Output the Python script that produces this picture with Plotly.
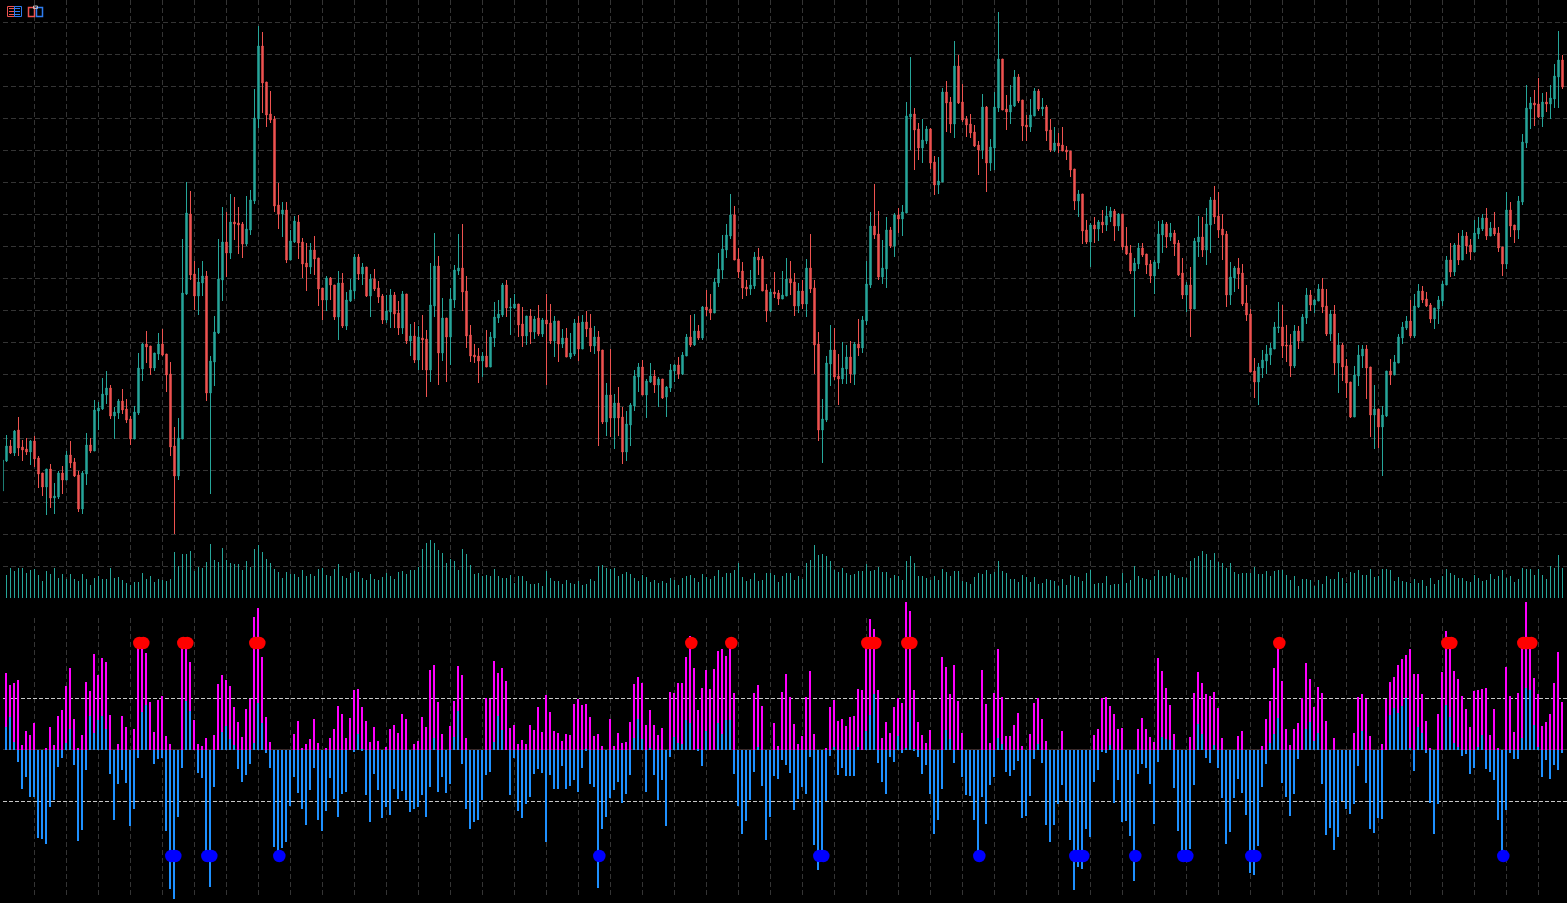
import plotly.graph_objects as go

W, H = 1567, 903

opens = [49,79,94,87,110,93,91,88,99,82, 67,53,71,42,43,67,60,85,78,65, 31,66,95,89,129,131,145,152,124,127,
139,131,121,101,127,171,196,194,172,186, 196,186,166,94,64,101,246,326,266,244, 257,264,147,178,207,260,298,287,318,317,
316,296,310,339,421,494,458,426,421,335, 326,330,280,298,318,298,277,273,290,282, 252,240,262,255,223,257,214,239,249,283,
266,273,244,261,252,244,220,228,245,227, 212,246,199,204,180,202,201,170,234,274, 187,222,203,240,269,272,249,205,185,184,
179,184,173,202,222,225,255,232,232,236, 216,204,224,208,222,206,220,217,199,219, 196,202,183,186,217,191,218,212,194,203,
190,118,145,122,137,123,88,115,134,163, 173,145,158,164,155,161,143,152,169,175, 166,184,203,195,209,202,233,231,227,257,
270,290,304,325,281,269,253,251,254,283, 281,250,229,248,247,241,244,261,258,234, 249,236,272,252,196,110,120,176,190,164,
161,171,183,166,196,192,219,255,314,306, 263,271,310,294,325,321,327,423,426,411, 392,399,411,378,355,358,448,438,416,474,
438,421,416,408,395,390,433,377,392,432, 481,431,428,434,463,440,415,413,424,449, 431,433,410,390,397,395,390,389,371,339,
346,310,298,315,311,318,315,323,329,314, 326,294,287,269,276,292,286,276,264,277, 305,316,303,307,297,267,245,255,231,298,
303,290,315,340,324,311,306,245,262,272, 267,237,226,169,158,172,179,185,191,212, 213,195,195,174,209,199,222,245,235,239,
251,234,206,226,177,195,174,158,123,164, 184,191,173,125,131,113,124,169,165,177, 202,212,219,204,233,249,241,235,221,231,
239,255,280,268,295,280,304,295,288,306, 311,322,304,312,307,293,276,330,315,310, 338,397,431,437,436,423,438,436,441,463,480]

highs = [80,105,100,110,123,100,102,100,104,84, 67,71,76,57,69,74,89,99,82,69, 69,107,102,140,138,162,169,155,133,141,
151,141,124,134,187,197,209,194,187,207, 211,186,178,113,122,301,358,349,279,272, 279,269,184,224,301,333,328,346,343,333,
318,344,350,451,514,508,458,449,424,357, 338,338,310,324,325,302,297,297,304,282, 252,264,263,255,269,267,248,261,286,286,
277,273,266,271,259,246,245,251,248,239, 249,246,216,218,214,225,210,277,307,284, 242,222,252,275,306,316,264,215,196,192,
188,210,208,238,240,257,260,242,246,236, 233,224,231,224,235,222,246,236,224,219, 211,212,207,221,224,225,229,226,214,209,
190,157,191,146,153,133,129,137,170,177, 180,161,177,170,163,161,154,176,176,183, 188,206,225,226,215,234,250,246,262,287,
305,316,346,334,292,278,260,270,288,292, 284,256,251,268,250,269,282,279,267,257, 260,281,306,260,208,141,184,215,212,186,
198,195,199,198,221,224,279,328,356,329, 300,323,313,327,332,335,438,483,432,417, 421,414,412,384,383,452,459,443,499,485,
456,424,426,415,399,446,434,401,448,528, 481,445,455,470,466,440,425,441,452,451, 442,435,421,413,407,413,394,389,371,350,
346,320,317,323,320,330,334,333,331,327, 326,313,295,282,297,297,286,280,280,319, 320,318,317,310,300,282,258,273,302,324,
323,332,343,354,348,326,309,278,274,282, 276,255,231,182,177,190,195,197,218,238, 235,215,206,215,214,226,252,250,241,256,
262,251,230,235,207,197,181,158,174,195, 195,195,173,155,131,134,169,181,185,206, 218,224,240,246,256,254,248,237,232,244,
259,284,297,297,307,310,308,301,320,323, 326,332,318,328,313,293,348,338,315,344, 406,455,443,450,462,447,448,455,476,509,485]

lows = [49,78,86,84,84,79,85,75,73,52, 44,25,32,26,41,46,60,72,63,28, 26,55,87,89,110,130,136,121,101,121,
126,117,95,101,125,159,177,165,169,180, 184,148,84,6,60,101,245,260,230,225, 244,139,46,154,206,239,263,281,300,286,
282,294,305,336,412,427,413,417,328,311, 303,277,280,297,281,262,249,266,265,234, 220,229,240,220,200,212,210,238,241,260,
255,243,223,249,237,216,217,212,212,205, 206,196,184,177,170,170,143,158,223,155, 179,158,175,232,265,229,192,178,177,157,
163,173,173,193,217,223,223,205,231,203, 193,195,196,201,204,203,155,196,183,178, 192,183,181,184,179,191,203,188,186,94,
116,104,103,91,104,76,79,94,129,148, 145,122,157,147,133,141,123,148,158,161, 165,184,193,194,200,200,224,220,227,253,
261,282,301,280,262,241,244,245,251,265, 249,218,228,242,235,241,244,245,224,227, 231,223,247,166,99,77,118,154,160,135,
156,156,157,155,184,187,215,252,301,260, 256,252,292,283,307,304,327,390,370,380, 377,396,371,345,346,358,408,407,402,436,
418,403,402,393,365,381,348,369,370,428, 430,410,416,433,437,399,399,408,424,429, 424,399,388,388,387,389,380,363,330,323,
296,296,273,297,299,307,309,318,299,309, 290,285,266,223,271,283,266,257,246,271, 287,292,299,284,264,241,228,203,231,283,
283,275,287,316,302,280,233,235,248,251, 234,219,168,142,135,162,166,175,191,207, 182,178,163,172,191,199,216,229,227,239,
227,204,199,165,147,159,142,122,123,154, 172,141,103,91,92,64,123,155,165,177, 196,210,202,202,232,237,233,217,211,216,
234,255,263,264,275,280,286,280,288,301, 309,300,304,304,288,264,271,303,297,301, 335,392,411,414,422,413,428,421,432,432,451]

closes = [80,94,87,109,92,90,88,99,81,66, 53,71,42,44,67,60,85,77,64,31, 67,95,89,130,132,146,152,124,128,139,
130,120,101,128,172,196,193,172,187,196, 185,165,93,64,102,247,327,265,244,258, 264,147,179,208,261,298,287,318,316,315,
296,311,340,422,494,457,425,420,334,326, 330,280,299,319,297,276,273,290,281,251, 240,262,255,223,257,214,240,250,283,266,
273,244,261,251,243,220,229,245,226,212, 246,199,204,180,203,200,170,235,274,187, 222,203,241,270,272,248,204,184,183,179,
184,173,203,223,226,255,232,233,236,215, 204,224,208,221,206,220,216,199,219,196, 202,183,187,217,191,218,211,194,203,189,
118,145,122,137,122,88,116,135,164,173, 145,159,164,155,161,142,153,170,175,166, 185,203,195,209,202,233,230,227,258,271,
291,305,325,280,268,252,251,255,283,280, 249,229,248,246,241,245,261,257,234,249, 236,272,251,195,110,121,177,190,163,161,
172,183,166,196,192,220,256,314,305,263, 272,310,294,325,321,328,424,426,410,392, 400,411,377,355,359,448,437,416,474,437,
420,415,407,394,390,433,377,393,433,481, 430,428,435,463,439,414,413,425,449,431, 433,409,390,397,394,389,388,370,339,346,
309,298,315,311,318,315,324,329,314,326, 293,286,269,277,292,285,275,264,278,306, 316,303,307,296,265,245,255,231,299,303,
290,316,340,323,310,305,245,263,272,266, 236,225,168,158,173,180,186,192,213,213, 194,194,174,209,199,223,245,235,240,251,
233,206,226,177,195,173,157,123,165,185, 191,172,125,131,113,125,169,165,178,203, 213,219,204,234,249,240,234,221,232,240,
256,280,268,295,280,304,294,288,307,312, 322,304,312,306,292,276,330,314,310,339, 398,432,437,435,423,438,436,442,464,480,453]

volumes = [0, 69,90,81,90,90,75,84,87,69,51, 81,72,90,60,72,57,72,57,51,72, 57,39,60,66,57,57,90,60,63,54,
45,39,48,48,75,57,66,48,57,54, 51,57,138,96,132,132,141,81,93,90, 108,162,114,108,150,114,105,102,102,84,
111,93,147,159,138,117,105,87,78,60, 78,72,72,63,84,66,72,66,87,90, 69,66,87,102,66,60,75,81,78,60,
54,72,57,54,63,75,66,57,78,
81,72,84,84,93,147,165,174,165,144, 135,105,117,111,84,147,132,99,72,75, 66,69,66,87,66,60,60,69,45,66,
66,51,42,42,45,36,81,60,51,51, 42,54,45,42,51,39,42,57,51,96, 99,90,87,90,66,72,78,72,60,51,
69,63,48,54,45,51,45,60,54,39, 60,66,69,60,48,72,63,57,66,84, 63,75,75,84,105,63,51,57,75,51,
54,75,75,69,48,66,75,75,54,66,
57,105,114,159,129,132,126,111,84,78, 90,75,69,72,81,81,102,81,84,93, 78,78,60,69,66,54,111,126,105,66,
66,60,54,66,54,87,78,66,81,81, 51,48,42,63,75,72,84,72,78,111, 81,75,57,57,48,69,63,48,63,42,
45,57,54,51,36,57,39,69,66,63, 51,75,84,42,45,45,66,39,42,42, 75,45,54,96,66,60,57,54,66,84,
66,66,75,69,60,63,60,111,120,126,
141,132,114,135,108,105,90,105,78,72, 75,75,75,93,72,72,81,66,81,84, 84,69,54,66,36,57,57,54,36,54,
42,66,57,57,78,60,45,78,75,84, 69,69,87,63,66,87,87,84,51,63, 51,48,45,57,45,54,36,60,42,54,
66,87,75,69,60,60,51,48,69,60, 51,54,72,57,66,84,60,66,48,57, 90,87,87,69,87,69,57,96,90,129,90]

bull_strength = [0, 231,195,201,210,15,57,45,81,0,0, 6,69,15,102,120,192,246,93,2,45, 204,177,288,225,276,264,105,0,18,102,
69,0,63,312,312,291,144,54,150,162, 42,18,0,0,312,312,264,90,18,12, 36,0,45,198,225,210,192,129,84,39,
123,153,399,426,279,99,24,0,0,0, 0,0,48,87,6,18,33,93,21,0, 3,36,63,132,108,36,96,180,183,129, 87,24,69,27,0,9,63,75,51,
108,93,0,18,27,99,69,240,255,144, 48,0,72,147,252,225,36,0,0,0, 0,156,153,267,231,246,207,66,75,18,
30,18,75,60,129,54,165,114,57,51, 27,48,45,138,153,135,138,99,42,48, 12,0,93,12,51,21,24,84,198,219,
201,75,120,75,45,66,0,174,171,201, 201,279,342,246,120,186,240,183,243,297, 303,282,312,171,0,0,0,0,171,195,
132,0,0,81,12,174,228,159,78,18, 42,159,237,48,0,0,6,129,150,87, 93,72,99,102,183,180,312,393,363,180,
36,84,51,129,156,141,444,417,180,84, 45,21,60,0,0,279,249,168,255,147, 51,0,0,0,0,240,138,21,171,303,
159,42,42,75,111,12,0,48,141,156, 93,27,0,0,0,57,0,0,0,0, 0,0,0,45,63,156,159,132,108,63,
66,0,0,0,63,96,63,39,24,276, 237,186,135,48,0,0,0,39,171,234, 201,168,162,174,126,36,0,0,0,42,
57,0,0,0,0,12,93,147,246,312, 207,63,15,63,81,156,261,213,129,189, 171,87,0,36,0,0,0,0,51,159,
168,153,42,0,0,18,153,204,219,255, 273,285,303,228,228,168,87,3,0,108, 234,357,339,237,213,162,123,69,177,180,
183,186,45,123,3,0,249,162,54,171, 312,444,312,216,168,72,84,108,201,294,144]

overlay_strength = [0, 69,99,24,0,0,0,0,0,0,0, 0,0,0,0,0,21,63,0,0,0, 0,102,51,90,102,63,0,0,0,0,
0,0,0,0,114,135,0,0,0,0, 0,0,0,0,0,147,117,0,0,0, 0,0,0,0,54,72,33,15,0,0,
0,0,21,141,81,0,0,0,0,0, 0,0,0,0,0,0,0,0,0,0, 0,0,0,0,0,0,0,0,48,0, 0,0,0,0,0,0,0,0,0,
0,0,0,0,0,0,0,0,36,0, 0,0,0,39,117,0,0,0,0,0, 0,0,0,24,102,60,0,0,0,0,
0,0,0,0,0,0,0,0,0,0, 0,0,0,0,0,0,0,0,0,0, 0,0,0,0,0,0,0,0,36,93,
33,0,6,0,0,0,0,0,39,21, 18,90,81,0,0,0,57,0,0,81, 48,90,90,0,0,0,0,0,0,9,
0,0,0,0,0,0,0,0,0,0, 0,0,0,0,0,0,0,0,9,0, 0,0,0,0,9,0,57,105,168,0,
0,0,0,0,42,0,6,120,0,0, 0,0,0,0,0,0,60,33,0,0, 0,0,0,0,0,0,0,0,0,36,
18,0,0,0,0,0,0,0,0,18, 0,0,0,0,0,0,0,0,0,0, 0,0,0,0,0,0,0,15,0,0,
0,0,0,0,0,0,0,0,0,0, 39,33,30,0,0,0,0,0,0,78, 48,0,0,15,0,0,0,0,0,0,
0,0,0,0,0,0,0,21,48,96, 0,0,0,0,0,0,63,84,27,51, 0,0,0,0,0,0,0,0,0,0,
57,0,0,0,0,0,0,105,126,111, 132,156,6,0,69,51,0,0,0,0, 0,135,99,21,9,0,0,0,0,9,
45,0,0,0,0,0,0,0,0,0, 36,186,180,75,9,0,0,0,0,0,0]

bear_strength = [0, 0,0,0,36,117,81,141,141,264,267, 282,171,150,51,24,0,0,45,273,240, 60,0,0,0,0,0,72,210,102,60,
99,228,177,24,0,0,0,42,27,24, 243,417,447,201,54,0,0,0,69,84, 320,411,111,0,0,0,0,0,57,96,
75,42,0,0,0,9,54,291,320,294, 276,168,81,129,177,225,120,54,210,243, 183,84,147,201,132,126,0,6,0,3, 135,216,72,120,204,171,195,117,147,
123,150,186,177,171,135,201,111,0,126, 81,129,102,0,0,42,177,237,216,210, 150,75,66,0,0,0,0,135,24,183,
204,162,141,72,57,69,276,75,117,117, 48,117,108,90,126,54,3,102,111,414, 237,201,144,120,96,159,132,75,0,0,
0,126,0,75,150,90,228,21,0,0, 0,0,0,0,3,48,0,0,0,0, 0,0,0,72,168,252,213,150,66,0,
108,270,201,78,87,30,45,69,180,147, 111,132,21,285,360,315,153,18,0,75, 54,78,78,78,0,0,0,0,0,39,
96,132,21,36,0,9,0,0,3,21, 72,45,132,252,210,117,0,0,39,0, 81,135,138,210,315,141,222,105,81,0,
0,66,78,60,33,204,198,138,27,0, 39,225,276,225,162,105,153,270,420,351, 357,237,261,96,60,6,9,0,159,90,
216,213,258,393,72,42,54,102,222,36, 0,0,0,114,243,315,300,297,105,0, 0,24,39,0,54,144,282,246,144,87,
129,195,369,375,288,111,42,0,0,0, 99,141,198,132,27,0,0,0,0,0, 102,255,234,300,261,153,177,192,162,48,
0,99,237,249,204,207,0,0,0,0, 0,0,0,63,0,0,9,159,252,162, 0,0,0,0,0,18,12,72,54,0,
0,57,66,90,210,315,180,9,27,27, 0,0,0,0,0,81,30,87,45,60,9]

sell_signal_bars = [34,35,45,46,63,64,172,182,216,217,218,226,227,319,361,362,380,381,382]
buy_signal_bars = [42,43,51,52,69,149,204,205,244,268,269,270,283,295,296,312,313,375]
sell_signal_level = 319.5
buy_signal_level = -319.5
levels = [154.5, -154.5]

n = len(closes)
for name, arr in [("o", opens), ("h", highs), ("l", lows), ("v", volumes), ("b", bull_strength), ("ov", overlay_strength), ("be", bear_strength)]:
    assert len(arr) == n, (name, len(arr), n)
bars = list(range(n))

TEAL = "#26a69a"
RED = "#ef5350"
GRID = "#343434"
GRID_DASH = "5px,3px"


def py(p):
    return 1 - p / H


def x_span(origin):
    """Axis range so bar i is centred at pixel origin + 4 * i, inside a plot area that starts at pixel 3."""
    return [(3 - origin) / 4, (W - origin) / 4]


x_domain = [3 / W, 1]

fig = go.Figure()
fig.add_trace(go.Candlestick(
    x=bars, open=opens, high=highs, low=lows, close=closes, xaxis="x", yaxis="y",
    increasing=dict(line=dict(color=TEAL, width=1), fillcolor=TEAL),
    decreasing=dict(line=dict(color=RED, width=1), fillcolor=RED),
    whiskerwidth=0, showlegend=False, hoverinfo="skip",
))
fig.add_trace(go.Bar(x=bars, y=volumes, width=0.24, marker=dict(color=TEAL, line=dict(width=0)),
                     xaxis="x2", yaxis="y2", showlegend=False, hoverinfo="skip"))
# empty carrier for the lower pane's vertical grid, which is shorter than its bars
fig.add_trace(go.Scatter(x=[bars[0]], y=[0], mode="markers", marker=dict(opacity=0),
                         xaxis="x3", yaxis="y3", showlegend=False, hoverinfo="skip"))
fig.add_trace(go.Bar(x=bars, y=bull_strength, width=0.51, marker=dict(color="#ff00ff", line=dict(width=0)),
                     xaxis="x4", yaxis="y4", showlegend=False, hoverinfo="skip"))
fig.add_trace(go.Bar(x=bars, y=overlay_strength, width=0.51, marker=dict(color="#1e90ff", line=dict(width=0)),
                     xaxis="x4", yaxis="y4", showlegend=False, hoverinfo="skip"))
fig.add_trace(go.Bar(x=bars, y=[-v for v in bear_strength], width=0.51, marker=dict(color="#1e90ff", line=dict(width=0)),
                     xaxis="x4", yaxis="y4", showlegend=False, hoverinfo="skip"))
fig.add_trace(go.Scatter(x=sell_signal_bars, y=[sell_signal_level] * len(sell_signal_bars), mode="markers",
                         marker=dict(color="#ff0000", size=12.5, line=dict(width=0)),
                         xaxis="x5", yaxis="y4", showlegend=False, hoverinfo="skip"))
fig.add_trace(go.Scatter(x=buy_signal_bars, y=[buy_signal_level] * len(buy_signal_bars), mode="markers",
                         marker=dict(color="#0000ff", size=12.5, line=dict(width=0)),
                         xaxis="x5", yaxis="y4", showlegend=False, hoverinfo="skip"))

x_grid = dict(domain=x_domain, tickmode="linear", tick0=8, dtick=8, showgrid=True,
              gridcolor=GRID, griddash=GRID_DASH, gridwidth=1, showticklabels=False, ticks="",
              zeroline=False, showline=False, fixedrange=True)
x_plain = dict(domain=x_domain, showgrid=False, showticklabels=False, ticks="",
               zeroline=False, showline=False, fixedrange=True)
y_common = dict(showticklabels=False, ticks="", showline=False, fixedrange=True)


def icon_shapes():
    out = []

    def rect(x0, y0, x1, y1, color, width=1.0):
        out.append(dict(type="rect", xref="paper", yref="paper", x0=x0 / W, x1=x1 / W, y0=py(y0), y1=py(y1),
                        line=dict(color=color, width=width), fillcolor="rgba(0,0,0,0)", layer="above"))

    def dash(x0, x1, y, color):
        out.append(dict(type="line", xref="paper", yref="paper", x0=x0 / W, x1=x1 / W, y0=py(y), y1=py(y),
                        line=dict(color=color, width=1), layer="above"))

    rect(7.5, 6.5, 14.5, 16.5, "#ef5350")
    rect(14.5, 6.5, 21.5, 16.5, "#2f7df0")
    for yy in (8.5, 11.5, 14.5):
        dash(9, 14, yy, "#ef5350")
        dash(15, 20, yy, "#2f7df0")
    rect(28.5, 7.5, 34.5, 16.5, "#ef5350", 1.5)
    rect(36.5, 7.5, 42.5, 16.5, "#2f7df0", 1.5)
    rect(33.5, 6, 37.5, 8.5, "#bdbdbd")
    return out


fig.update_layout(
    width=W, height=H, autosize=False,
    margin=dict(l=0, r=0, t=0, b=0, pad=0),
    paper_bgcolor="#000000", plot_bgcolor="rgba(0,0,0,0)",
    barmode="overlay", bargap=0, boxgap=0.5, boxmode="overlay",
    showlegend=False, hovermode=False,
    shapes=icon_shapes(),
    xaxis=dict(anchor="y", range=x_span(2.5), rangeslider=dict(visible=False), **x_grid),
    xaxis2=dict(anchor="y2", range=x_span(2.5), **x_grid),
    xaxis3=dict(anchor="y3", range=x_span(2.5), **x_grid),
    xaxis4=dict(anchor="y4", range=x_span(2.0), **x_plain),
    xaxis5=dict(anchor="y4", overlaying="x4", range=x_span(3.3), **x_plain),
    yaxis=dict(anchor="x", domain=[py(537), 1], range=[3, 540], tickmode="linear", tick0=5.7, dtick=32,
               showgrid=True, gridcolor=GRID, griddash=GRID_DASH, gridwidth=1, zeroline=False, **y_common),
    yaxis2=dict(anchor="x2", domain=[py(601), py(537)], range=[-9, 183], tickmode="array", tickvals=[95],
                showgrid=True, gridcolor=GRID, griddash=GRID_DASH, gridwidth=1, zeroline=False, **y_common),
    yaxis3=dict(anchor="x3", domain=[py(898), py(618)], range=[-1, 1], showgrid=False, zeroline=False, **y_common),
    yaxis4=dict(anchor="x4", domain=[py(899), py(601)], range=[-448.5, 445.5], tickmode="array", tickvals=levels,
                showgrid=True, gridcolor="#c8c8c8", griddash="4px,2px", gridwidth=1,
                zeroline=True, zerolinecolor="#3a2a2a", zerolinewidth=1, **y_common),
)

fig.write_html(
    "out.html",
    config={"displayModeBar": False},
    post_script="document.body.style.margin='0';document.body.style.background='#000';document.documentElement.style.overflow='hidden';",
)
